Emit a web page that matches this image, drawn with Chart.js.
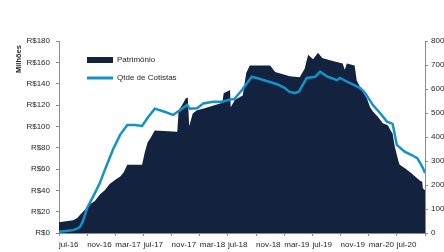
<!DOCTYPE html>
<html>
<head>
<meta charset="utf-8">
<script src="https://cdn.jsdelivr.net/npm/chart.js@4/dist/chart.umd.min.js"></script>
<style>
  body { margin: 0; background: #fff; }
  canvas { display: block; }
</style>
</head>
<body>
<canvas id="chart" width="444" height="252"></canvas>
<script>
// x positions are months since jul-16
const xLabels = ['jul-16', 'nov-16', 'mar-17', 'jul-17', 'nov-17', 'mar-18', 'jul-18',
  'nov-18', 'mar-19', 'jul-19', 'nov-19', 'mar-20', 'jul-20'];

const patMonths = [0, 1, 2, 2.6, 3, 3.7, 4.4, 5.1, 5.8, 6.5, 7.2, 8, 8.7, 9.2, 9.7, 11.8, 12.2,
  12.6, 12.9, 13.6, 16.8, 17, 17.5, 18, 18.3, 18.5, 19, 19.6, 20.7, 22.2, 23.2, 23.4, 24.3,
  24.4, 25, 26.1, 26.6, 27.1, 30, 30.7, 32.8, 34.2, 34.9, 35.4, 36.1, 36.8, 37.4, 38.5, 40.3,
  40.6, 40.9, 42, 42.3, 43, 43.75, 44.2, 44.6, 45.3, 46, 46.7, 47.4, 47.7, 48.2, 48.4, 49.1,
  49.9, 50.6, 51.3, 51.6, 51.7, 52];
const patrimonio = [10, 11, 12, 14, 17, 22, 27, 30, 36, 40, 46, 50, 53, 57, 64, 64, 76,
  85, 88, 96, 95, 115, 120, 126, 127, 100, 112, 115, 117, 120, 122, 131, 134,
  118, 125, 129, 150, 157, 157, 151, 147, 146, 154, 167, 163, 169, 164, 162, 159,
  153, 159, 157, 143, 134, 126, 118, 114, 109, 103, 101, 93, 81, 68, 64, 61,
  57, 53, 49, 48, 42, 40];

const cotMonths = [0, 1, 2, 2.6, 3, 3.4, 4, 5.1, 5.8, 6.5, 7.7, 8.7, 9.7, 10.8, 11.8, 12.6,
  13.6, 15, 16.2, 17.2, 18.2, 18.6, 19.6, 20.5, 21.9, 23.2, 24.3, 24.9, 26, 27.4, 28.1, 31,
  32.1, 32.7, 33.5, 34.1, 35.2, 36.4, 37.1, 38.1, 39.5, 39.9, 41.3, 42.8, 43.5, 44.6, 45.6,
  46.6, 47.4, 48, 49.1, 50.1, 50.9, 51.3, 51.7, 52];
const cotistas = [5, 8, 12, 18, 26, 50, 104, 166, 208, 262, 350, 410, 450, 450, 446, 480,
  518, 505, 492, 512, 533, 518, 520, 540, 547, 547, 556, 558, 596, 651, 646, 620,
  604, 589, 583, 590, 646, 651, 672, 652, 637, 646, 625, 604, 583, 533, 500,
  464, 455, 367, 339, 325, 312, 292, 271, 250];

const NAVY = '#13233F';
const BLUE = '#1591C9';
const AXIS = '#8C8C8C';
const TEXT = '#262626';
const FONT = "'Liberation Sans', Arial, sans-serif";

const legendAndTitle = {
  id: 'legendAndTitle',
  afterDraw(chart) {
    const ctx = chart.ctx;
    ctx.save();
    ctx.fillStyle = NAVY;
    ctx.fillRect(87, 57, 26, 6);
    ctx.strokeStyle = BLUE;
    ctx.lineWidth = 3;
    ctx.beginPath();
    ctx.moveTo(87, 78);
    ctx.lineTo(113, 78);
    ctx.stroke();
    ctx.fillStyle = TEXT;
    ctx.font = '8px ' + FONT;
    ctx.textBaseline = 'middle';
    ctx.textAlign = 'left';
    ctx.fillText('Patrimônio', 117, 60);
    ctx.fillText('Qtde de Cotistas', 117, 78);
    // axis title
    ctx.translate(19, 59);
    ctx.rotate(-Math.PI / 2);
    ctx.font = 'bold 7.5px ' + FONT;
    ctx.textAlign = 'center';
    ctx.fillText('Milhões', 0, 0);
    ctx.restore();
  }
};

new Chart(document.getElementById('chart').getContext('2d'), {
  type: 'line',
  data: {
    datasets: [
      {
        label: 'Qtde de Cotistas',
        data: cotMonths.map((m, i) => ({ x: m, y: cotistas[i] })),
        yAxisID: 'y2',
        borderColor: BLUE,
        borderWidth: 2.5,
        pointRadius: 0,
        fill: false,
        order: 0
      },
      {
        label: 'Patrimônio',
        data: patMonths.map((m, i) => ({ x: m, y: patrimonio[i] })),
        yAxisID: 'y',
        borderWidth: 0,
        borderColor: NAVY,
        backgroundColor: NAVY,
        pointRadius: 0,
        fill: 'origin',
        order: 1
      }
    ]
  },
  options: {
    responsive: false,
    animation: false,
    layout: { padding: { top: 41, left: 0, right: 0, bottom: 0 } },
    plugins: {
      legend: { display: false },
      tooltip: { enabled: false }
    },
    scales: {
      x: {
        type: 'linear',
        min: 0,
        max: 52,
        afterFit: (s) => { s.height = 19; },
        border: { display: true, color: AXIS, width: 1 },
        grid: { display: true, drawOnChartArea: false, drawTicks: true, tickLength: 3, color: AXIS },
        ticks: {
          stepSize: 4,
          autoSkip: false,
          maxRotation: 0,
          align: 'start',
          padding: 4,
          color: TEXT,
          font: { family: FONT, size: 8 },
          callback: (v) => xLabels[v / 4] || ''
        }
      },
      y: {
        position: 'left',
        min: 0,
        max: 180,
        afterFit: (s) => { s.width = 59; },
        border: { display: true, color: AXIS, width: 1 },
        grid: { display: true, drawOnChartArea: false, drawTicks: true, tickLength: 3, color: AXIS },
        ticks: {
          stepSize: 20,
          padding: 6,
          color: TEXT,
          font: { family: FONT, size: 8 },
          callback: (v) => 'R$' + v
        }
      },
      y2: {
        position: 'right',
        min: 0,
        max: 800,
        afterFit: (s) => { s.width = 19; },
        border: { display: true, color: AXIS, width: 1 },
        grid: { display: true, drawOnChartArea: false, drawTicks: true, tickLength: 3, color: AXIS },
        ticks: {
          stepSize: 100,
          padding: 3,
          color: TEXT,
          font: { family: FONT, size: 8 }
        }
      }
    }
  },
  plugins: [legendAndTitle]
});
</script>
</body>
</html>
